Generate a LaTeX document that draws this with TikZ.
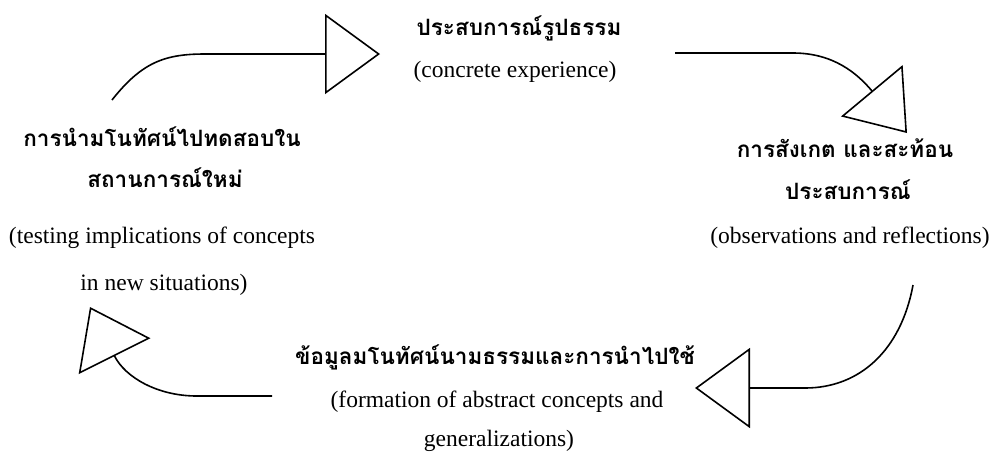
\documentclass[tikz,border=0pt]{standalone}
\usepackage{fontspec}
\setmainfont{Liberation Serif}
\newfontfamily\thaifont[Script=Thai]{Loma}
\usetikzlibrary{arrows.meta}
\tikzset{
  thai/.style={font=\thaifont\bfseries\fontsize{22.5}{25}\selectfont, inner sep=0pt},
  eng/.style={font=\fontsize{23.5}{26}\selectfont, inner sep=0pt},
  cyc/.style={line width=1.6pt, -{Triangle[open,length=55pt,width=80pt]}}
}
\begin{document}
\begin{tikzpicture}[x=1pt,y=-1pt]
\useasboundingbox (0,0) rectangle (998,467);

\node[thai] (expth) at (519,28) {ประสบการณ์รูปธรรม};
\node[eng] (expen) at (515,72) {(concrete experience)};

\node[thai] (obsth) at (845,148) {การสังเกต และสะท้อน};
\node[thai] (obsth2) at (848,190) {ประสบการณ์};
\node[eng] (obsen) at (850,238) {(observations and reflections)};

\node[thai] (absth) at (495,357) {ข้อมูลมโนทัศน์นามธรรมและการนำไปใช้};
\node[eng] (absen) at (497,402) {(formation of abstract concepts and};
\node[eng] (absen2) at (499,441) {generalizations)};

\node[thai] (tstth) at (162,137) {การนำมโนทัศน์ไปทดสอบใน};
\node[thai] (tstth2) at (165,178) {สถานการณ์ใหม่};
\node[eng] (tsten) at (162,238) {(testing implications of concepts};
\node[eng] (tsten2) at (164,285) {in new situations)};

\coordinate (a1s) at (112,100);
\coordinate (a1m) at (205,54);
\coordinate (a1e) at (380,54);
\coordinate (a2s) at (675,53);
\coordinate (a2m) at (793,53);
\coordinate (a2e) at (907,133);
\coordinate (a3s) at (913,285);
\coordinate (a3m) at (805,388);
\coordinate (a3e) at (695,388);
\coordinate (a4s) at (272,396);
\coordinate (a4m) at (197,396);
\coordinate (a4e) at (90,307);

\draw[cyc] (a1s) .. controls +(30,-38) and +(-40,0) .. (a1m) -- (a1e);
\draw[cyc] (a2s) -- (a2m) .. controls +(40,0) and +(-50,-60) .. (a2e);
\draw[cyc] (a3s) .. controls +(-12,65) and +(55,0) .. (a3m) -- (a3e);
\draw[cyc] (a4s) -- (a4m) .. controls +(-40,0) and +(35,70) .. (a4e);
\end{tikzpicture}
\end{document}
